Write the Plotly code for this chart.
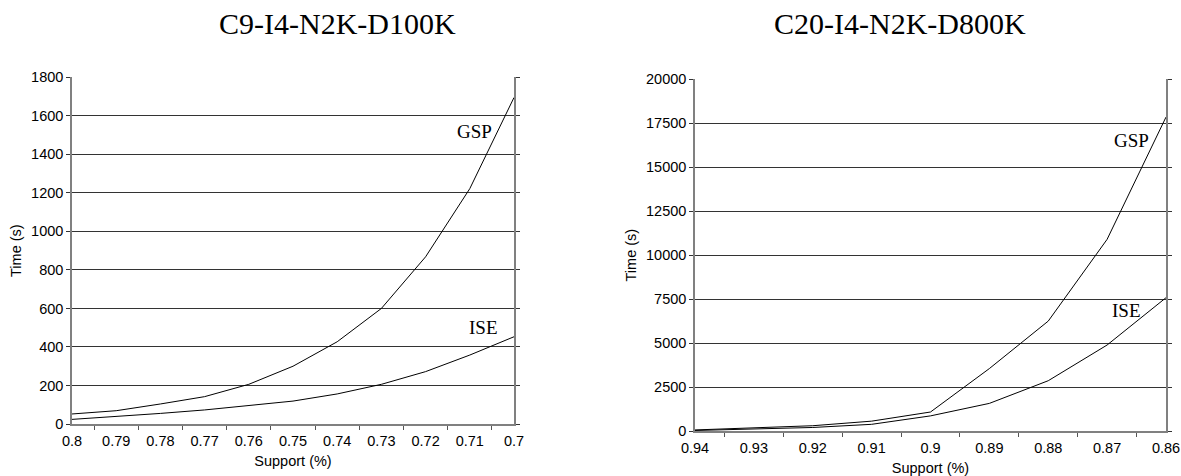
import plotly.graph_objects as go

# ---- data ----
support_left = [0.80, 0.79, 0.78, 0.77, 0.76, 0.75, 0.74, 0.73, 0.72, 0.71, 0.70]
gsp_left = [52, 69, 104, 142, 206, 300, 427, 600, 868, 1222, 1695]
ise_left = [24, 38, 55, 73, 95, 119, 156, 206, 272, 358, 453]

support_right = [0.94, 0.93, 0.92, 0.91, 0.90, 0.89, 0.88, 0.87, 0.86]
gsp_right = [60, 160, 300, 560, 1080, 3550, 6250, 10900, 17850]
ise_right = [30, 100, 200, 380, 860, 1570, 2860, 4890, 7580]

title_left = "C9-I4-N2K-D100K"
title_right = "C20-I4-N2K-D800K"
x_title = "Support (%)"
y_title = "Time (s)"

W, H = 1181, 476
SANS = "Liberation Sans, Arial, sans-serif"
SERIF = "Liberation Serif, Times New Roman, serif"
TICK_SIZE = 14.5
LABEL_SIZE = 19


def px_x(p):
    return p / W


def px_y(p):
    return 1 - p / H


fig = go.Figure()
line_style = dict(color="black", width=1)
fig.add_trace(go.Scatter(x=support_left, y=gsp_left, mode="lines", line=line_style,
                         xaxis="x", yaxis="y", showlegend=False, name="GSP"))
fig.add_trace(go.Scatter(x=support_left, y=ise_left, mode="lines", line=line_style,
                         xaxis="x", yaxis="y", showlegend=False, name="ISE"))
fig.add_trace(go.Scatter(x=support_right, y=gsp_right, mode="lines", line=line_style,
                         xaxis="x2", yaxis="y2", showlegend=False, name="GSP"))
fig.add_trace(go.Scatter(x=support_right, y=ise_right, mode="lines", line=line_style,
                         xaxis="x2", yaxis="y2", showlegend=False, name="ISE"))


def half_steps(vals):
    return [(a + b) / 2 for a, b in zip(vals[:-1], vals[1:])]


def fmt(v):
    return f"{v:.2f}".rstrip("0").rstrip(".")


def xaxis_cfg(vals, domain):
    eps = 1e-6
    return dict(
        domain=domain,
        range=[vals[0] + eps, vals[-1] - eps],
        automargin=False,
        tickmode="array",
        tickvals=vals,
        ticktext=[fmt(v) for v in vals],
        ticklabeloverflow="allow",
        ticks="outside", ticklen=3, tickcolor="rgba(0,0,0,0)",
        showgrid=False, zeroline=False,
        showline=True, linecolor="#808080", linewidth=1.5,
        minor=dict(tickmode="array", tickvals=half_steps(vals), ticks="outside",
                   ticklen=4, tickcolor="#555555", tickwidth=1, showgrid=False),
        tickfont=dict(family=SANS, size=TICK_SIZE, color="black"),
        title=dict(text=x_title, font=dict(family=SANS, size=TICK_SIZE, color="black"), standoff=8),
        fixedrange=True,
    )


def yaxis_cfg(rng, dtick, domain, anchor):
    return dict(
        domain=domain,
        anchor=anchor,
        range=rng,
        dtick=dtick,
        tickformat="d",
        automargin=False,
        ticks="outside", ticklen=4, tickcolor="#333333",
        showgrid=True, gridcolor="#333333", gridwidth=1,
        zeroline=False,
        showline=True, linecolor="#808080", linewidth=1.5, mirror="ticks",
        tickfont=dict(family=SANS, size=TICK_SIZE, color="black"),
        title=dict(text=y_title, font=dict(family=SANS, size=TICK_SIZE, color="black"), standoff=6),
        fixedrange=True,
    )


fig.update_layout(
    width=W, height=H,
    margin=dict(l=0, r=0, t=0, b=0, autoexpand=False),
    paper_bgcolor="white", plot_bgcolor="white",
    xaxis=dict(**xaxis_cfg(support_left, [px_x(72), px_x(514)]), anchor="y"),
    yaxis=yaxis_cfg([0, 1800], 200, [px_y(424), px_y(77.3)], "x"),
    xaxis2=dict(**xaxis_cfg(support_right, [px_x(695), px_x(1166)]), anchor="y2"),
    yaxis2=yaxis_cfg([0, 20000], 2500, [px_y(431), px_y(79.3)], "x2"),
    annotations=[
        dict(text=title_left, xref="paper", yref="paper", x=px_x(337), y=px_y(23),
             xanchor="center", yanchor="middle",
             showarrow=False, font=dict(family=SERIF, size=30, color="black")),
        dict(text=title_right, xref="paper", yref="paper", x=px_x(900), y=px_y(23),
             xanchor="center", yanchor="middle",
             showarrow=False, font=dict(family=SERIF, size=30, color="black")),
        dict(text="GSP", xref="x", yref="y", x=0.7089, y=1521, showarrow=False,
             xanchor="center", yanchor="middle",
             font=dict(family=SERIF, size=LABEL_SIZE, color="black")),
        dict(text="ISE", xref="x", yref="y", x=0.7070, y=501, showarrow=False,
             xanchor="center", yanchor="middle",
             font=dict(family=SERIF, size=LABEL_SIZE, color="black")),
        dict(text="GSP", xref="x2", yref="y2", x=0.8658, y=16510, showarrow=False,
             xanchor="center", yanchor="middle",
             font=dict(family=SERIF, size=LABEL_SIZE, color="black")),
        dict(text="ISE", xref="x2", yref="y2", x=0.8667, y=6860, showarrow=False,
             xanchor="center", yanchor="middle",
             font=dict(family=SERIF, size=LABEL_SIZE, color="black")),
    ],
)

fig.write_html(
    "out.html",
    config={"displayModeBar": False},
    post_script="document.body.style.margin='0';document.body.style.overflow='hidden';",
)
